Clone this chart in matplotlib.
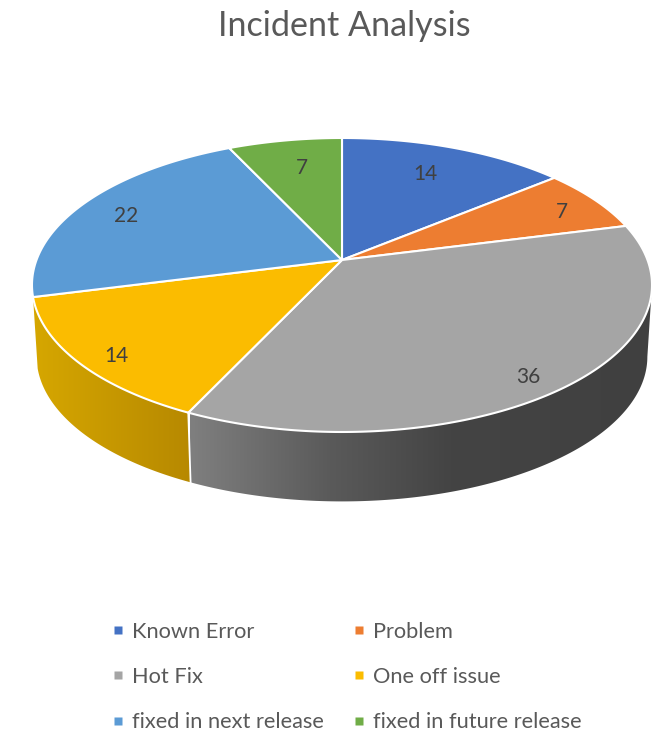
import numpy as np
import matplotlib
matplotlib.use("Agg")
import matplotlib.pyplot as plt
from matplotlib.patches import Polygon
from matplotlib.lines import Line2D
from matplotlib.colors import LinearSegmentedColormap

categories = ["Known Error", "Problem", "Hot Fix", "One off issue",
              "fixed in next release", "fixed in future release"]
values = [14, 7, 36, 14, 22, 7]
title = "Incident Analysis"

colors = ["#4472C4", "#ED7D31", "#A5A5A5", "#FBBC00", "#5B9BD5", "#70AD47"]
label_xy = [(425, 174), (562, 212), (528, 377), (116, 356), (126, 216), (302, 168)]
# wall gradient stops: (pixel x, colour)
wall_stops = {
    2: [(190, "#7F7F7F"), (330, "#5A5A5A"), (450, "#444444"), (652, "#404040")],
    3: [(32, "#D6A700"), (190, "#B78900")],
}

CX, CY, RX, RY, K = 342.0, 260.0, 305.5, 142.75, 0.17
WALL_CY, WALL_S = 332.0, 0.985
FONT = ["Lato", "DejaVu Sans"]


def project(theta, cy=CY, s=1.0):
    u, v = np.sin(theta), np.cos(theta)
    w = 1 + K * v
    return CX + s * RX * u / w, cy + s * RY * (-v) / w


fig = plt.figure(figsize=(6.59, 7.31), dpi=100)
ax = fig.add_axes([0, 0, 1, 1])
ax.axis("off")

shares = np.array(values, dtype=float) / sum(values)
edges = np.concatenate([[0], np.cumsum(shares)]) * 2 * np.pi

# front range of the rim: the silhouette points left and right
front_lo = np.pi / 2 + np.arcsin(K)
front_hi = 3 * np.pi / 2 - np.arcsin(K)

for i in wall_stops:
    a = max(edges[i], front_lo)
    b = min(edges[i + 1], front_hi)
    th = np.linspace(a, b, 200)
    tx, ty = project(th)
    bx, by = project(th[::-1], WALL_CY, WALL_S)
    poly = Polygon(np.column_stack([np.r_[tx, bx], np.r_[ty, by]]),
                   closed=True, fc="none", ec="none", transform=ax.transData)
    ax.add_patch(poly)
    stops = wall_stops[i]
    x0, x1 = stops[0][0], stops[-1][0]
    cmap = LinearSegmentedColormap.from_list(
        "w", [((x - x0) / (x1 - x0), c) for x, c in stops])
    im = ax.imshow(np.linspace(0, 1, 256)[None, :], cmap=cmap, aspect="auto",
                   extent=(x0, x1, 520, 280), zorder=1, interpolation="bilinear")
    im.set_clip_path(poly)
    if edges[i] > front_lo:
        ax.plot([tx[0], bx[-1]], [ty[0], by[-1]], color="white", lw=1.3, zorder=1.5)

ax.set_xlim(0, 659)
ax.set_ylim(731, 0)

for i, c in enumerate(colors):
    th = np.linspace(edges[i], edges[i + 1], 300)
    x, y = project(th)
    pts = np.column_stack([np.r_[CX, x], np.r_[CY, y]])
    ax.add_patch(Polygon(pts, closed=True, fc=c, ec="white", lw=1.5,
                         joinstyle="round", zorder=2))

for v, (x, y) in zip(values, label_xy):
    ax.text(x, y, str(v), ha="center", va="center", color="#404040",
            fontsize=15, family=FONT, zorder=3)

ax.text(344.5, 26, title, ha="center", va="center", color="#595959",
        fontsize=24.6, family=FONT)

order = [0, 2, 4, 1, 3, 5]
handles = [Line2D([], [], ls="none", marker="s", ms=5.8, mfc=colors[i], mec="none",
                  label=categories[i]) for i in order]
leg = ax.legend(handles=handles, ncol=2, frameon=False, loc="upper left",
                bbox_to_anchor=(111.5 / 659, 1 - 622 / 731), bbox_transform=ax.transAxes,
                prop={"family": FONT, "size": 15.7}, labelcolor="#595959",
                handlelength=0.6, handletextpad=0.34, columnspacing=1.3,
                labelspacing=1.15, borderaxespad=0, borderpad=0)

fig.savefig("out.png", dpi=100)
